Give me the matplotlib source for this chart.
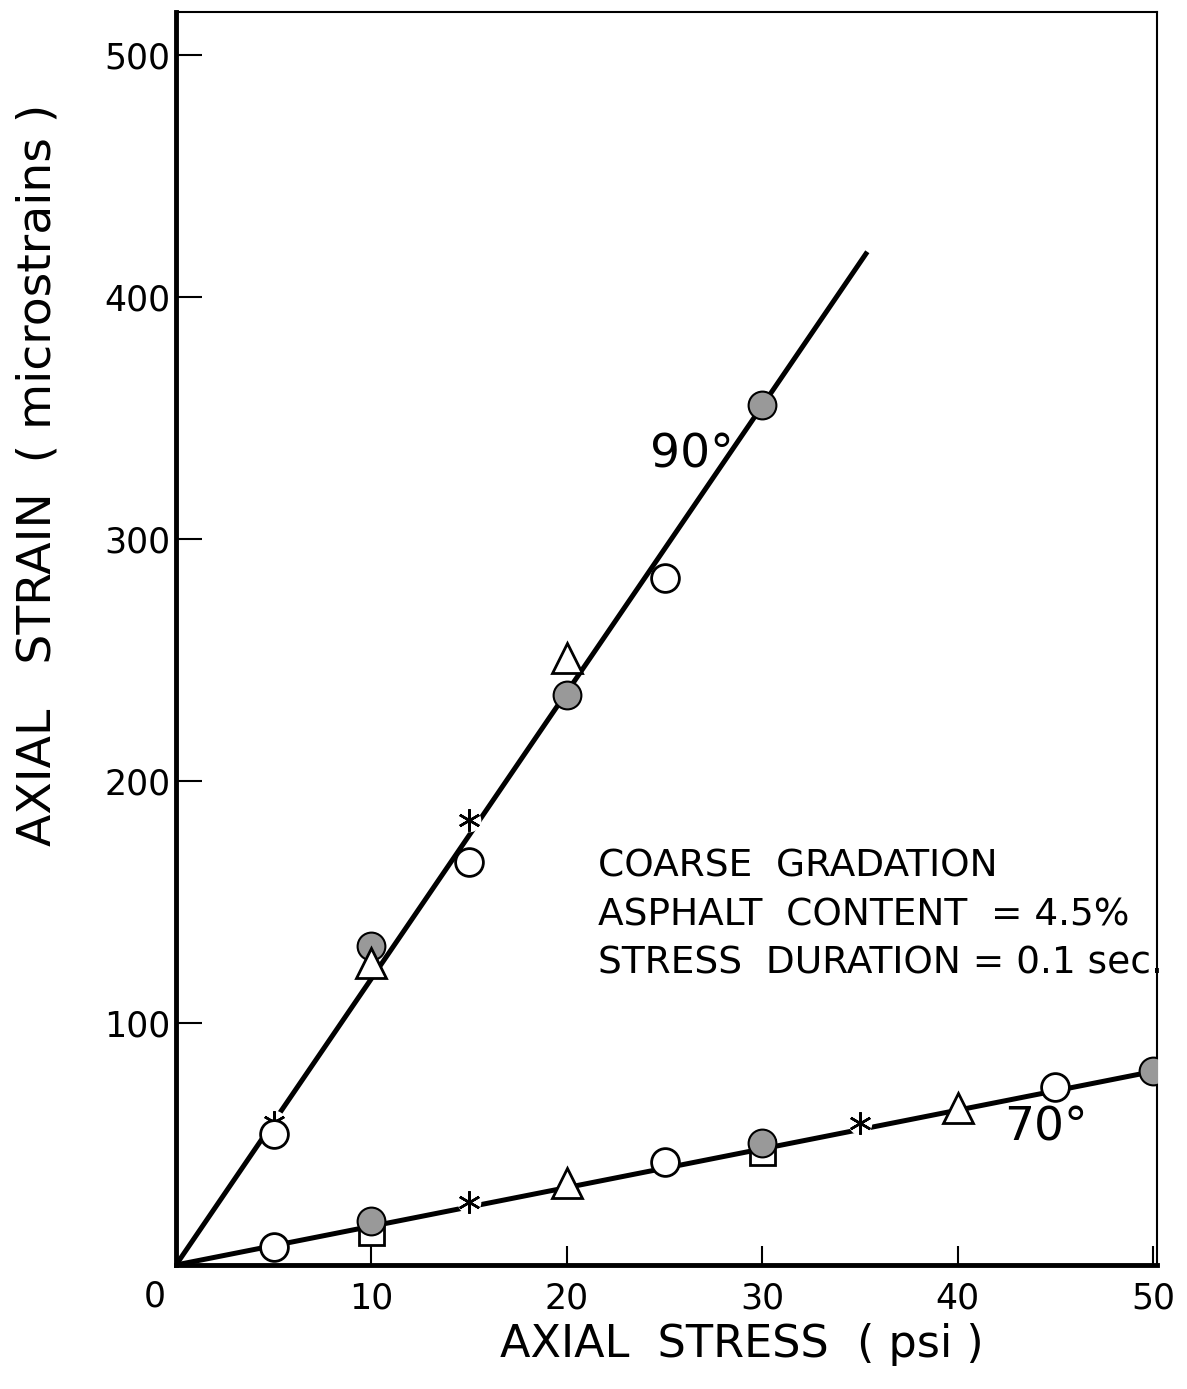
import matplotlib
matplotlib.use("Agg")
from matplotlib import pyplot as plt

# fitted lines (end points)
line90_x = [0, 35.3]
line90_y = [0, 418]
line70_x = [0, 50]
line70_y = [0, 80]

# 90 degree test points
open90_x = [5, 15, 25]
open90_y = [54, 166.5, 284]
filled90_x = [10, 20, 30]
filled90_y = [132, 235.5, 355.5]
tri90_x = [10, 20]
tri90_y = [125, 251]
star90_x = [5, 15]
star90_y = [59, 184]

# 70 degree test points
open70_x = [5, 25, 45]
open70_y = [7.4, 42.5, 73.6]
filled70_x = [10, 30, 50]
filled70_y = [18, 50.5, 80]
tri70_x = [20, 40]
tri70_y = [34, 65]
square70_x = [10, 30]
square70_y = [13.5, 46.7]
star70_x = [15, 35]
star70_y = [26, 58.7]

xticks = [0, 10, 20, 30, 40, 50]
yticks = [100, 200, 300, 400, 500]

fig = plt.figure(figsize=(11.87, 13.89), dpi=100)
ax = fig.add_axes([0.1483, 0.0893, 0.8265, 0.9021])

ax.plot(line90_x, line90_y, color='black', lw=3.6, zorder=2)
ax.plot(line70_x, line70_y, color='black', lw=3.6, zorder=2)

# small white gaps where the line passes an asterisk
for xs, ys in [(star90_x, star90_y), (star70_x, star70_y)]:
    ax.plot(xs, ys, ls='none', marker='o', ms=17, mfc='white', mec='none', zorder=3)
    ax.plot(xs, ys, ls='none', marker=(6, 2, 0), ms=16, mec='black', mew=1.8, zorder=4)

for xs, ys in [(square70_x, square70_y)]:
    ax.plot(xs, ys, ls='none', marker='s', ms=18, mfc='white', mec='black', mew=2, zorder=4)

for xs, ys in [(filled90_x, filled90_y), (filled70_x, filled70_y)]:
    ax.plot(xs, ys, ls='none', marker='o', ms=20, mfc='#999999', mec='black', mew=1.5, zorder=5)

for xs, ys in [(open90_x, open90_y), (open70_x, open70_y)]:
    ax.plot(xs, ys, ls='none', marker='o', ms=20, mfc='white', mec='black', mew=2, zorder=5)

for xs, ys in [(tri90_x, tri90_y), (tri70_x, tri70_y)]:
    ax.plot(xs, ys, ls='none', marker='^', ms=22, mfc='white', mec='black', mew=2, zorder=5)

ax.set_xlim(0, 50.2)
ax.set_ylim(0, 518)
ax.set_xticks(xticks)
ax.set_yticks(yticks)
# zero label is drawn separately, a bit left of the corner
ax.set_xticklabels([''] + [str(t) for t in xticks[1:]], fontsize=25)
ax.set_yticklabels([str(t) for t in yticks], fontsize=25)
ax.tick_params(axis='x', direction='in', length=14, width=1.5, pad=12)
ax.tick_params(axis='y', direction='in', length=19, width=1.5, pad=4)
ax.text(-1.1, -0.0255, str(xticks[0]), fontsize=25, ha='center', va='center',
        transform=ax.get_xaxis_transform(), clip_on=False)

ax.spines['left'].set_linewidth(3.5)
ax.spines['bottom'].set_linewidth(3.5)
ax.spines['top'].set_linewidth(1.5)
ax.spines['right'].set_linewidth(1.5)

ax.text(26.4, 335, "90°", fontsize=34, ha='center', va='center')
ax.text(44.5, 56.6, "70°", fontsize=34, ha='center', va='center')
ax.text(21.6, 144.6, "COARSE  GRADATION\nASPHALT  CONTENT  = 4.5%\nSTRESS  DURATION = 0.1 sec.",
        fontsize=27, ha='left', va='center', linespacing=1.45)

fig.text(0.032, 0.658, "AXIAL   STRAIN  ( microstrains )", fontsize=34, rotation=90,
         ha='center', va='center')
fig.text(0.625, 0.032, "AXIAL  STRESS  ( psi )", fontsize=32, ha='center', va='center')

plt.savefig('out.png', dpi=100)
